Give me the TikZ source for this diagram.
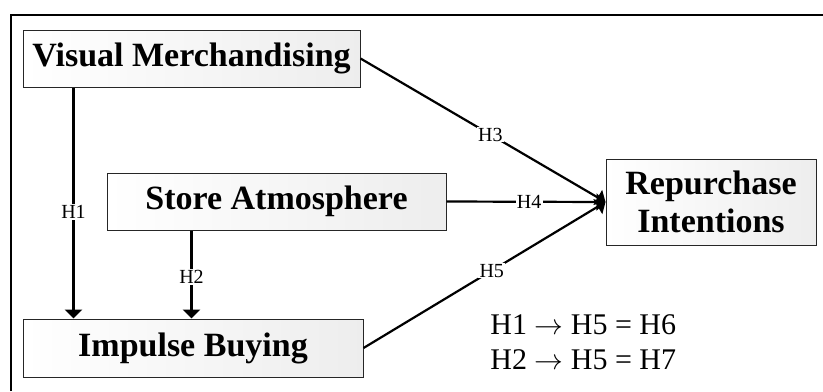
\documentclass[tikz,border=0pt]{standalone}
\usepackage{fontspec}
\setmainfont{Liberation Serif}
\usetikzlibrary{arrows.meta}
\tikzstyle{factor}=[rectangle, draw=gray!30!black, line width=0.5pt, left color=white, right color=gray!14, inner sep=0pt, font=\fontsize{17}{19}\selectfont\bfseries, align=center]
\tikzstyle{link}=[line width=1.1pt, -{Triangle[length=4.5pt,width=8.5pt]}]
\tikzstyle{hyp}=[fill=white, inner sep=0.6pt, font=\fontsize{10}{11}\selectfont]
\tikzstyle{note}=[anchor=west, inner sep=0pt, font=\fontsize{15}{17}\selectfont]

\begin{document}
\begin{tikzpicture}[x=0.5pt, y=-0.5pt]
    \useasboundingbox (0,0) rectangle (823,391);
    % outer frame, cut at the page edge
    \draw[line width=1pt] (11,391) -- (11,15) -- (823,15);

    % constructs
    \node[factor, minimum width=168.5pt, minimum height=28.5pt] (vm) at (191.5,58.5) {Visual Merchandising};
    \node[factor, minimum width=169.5pt, minimum height=28.5pt] (sa) at (276.5,201.5) {Store Atmosphere};
    \node[factor, minimum width=170pt, minimum height=29pt] (ib) at (193,348) {Impulse Buying};
    \node[factor, minimum width=105pt, minimum height=43pt] (ri) at (711,202) {Repurchase\\Intentions};

    % hypotheses
    \draw[link] ([xshift=25.5pt]vm.south west) coordinate (h1) -- (h1 |- ib.north)
        node[hyp, pos=0.54] (lh1) {H1};
    \draw[link] ([xshift=42.5pt]sa.south west) coordinate (h2) -- (h2 |- ib.north)
        node[hyp, pos=0.53] (lh2) {H2};
    \draw[link] (vm.east) -- (ri.west) node[hyp, pos=0.53] (lh3) {H3};
    \draw[link] (sa.east) -- (ri.west) node[hyp, pos=0.52] (lh4) {H4};
    \draw[link] (ib.east) -- (ri.west) node[hyp, pos=0.53] (lh5) {H5};

    % mediation notes
    \node[note] (eq1) at (490,325) {H1 $\rightarrow$ H5 = H6};
    \node[note] (eq2) at (490,360) {H2 $\rightarrow$ H5 = H7};
\end{tikzpicture}
\end{document}
